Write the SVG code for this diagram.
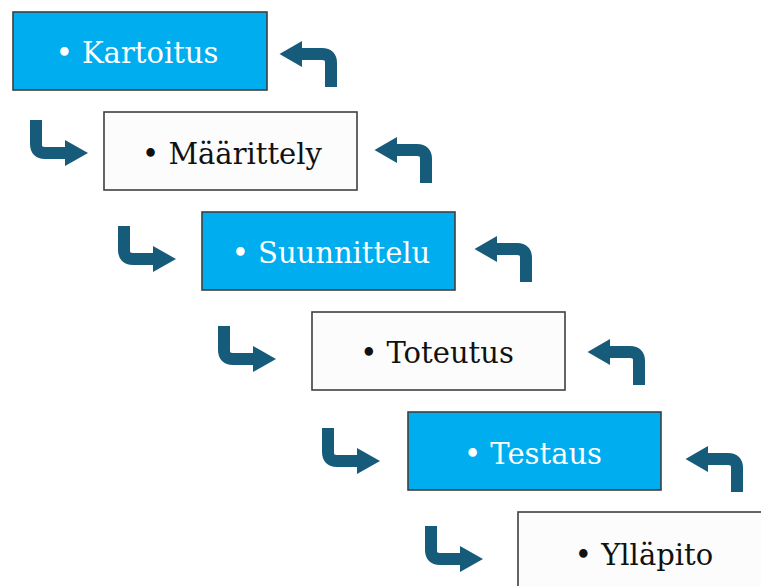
<svg xmlns="http://www.w3.org/2000/svg" xmlns:xlink="http://www.w3.org/1999/xlink" width="761" height="586" viewBox="0 0 761 586">
  <style>
    .box { stroke: #3f3f3f; stroke-width: 1.6; }
    .blue { fill: #00adee; }
    .plain { fill: #fcfcfc; }
    .label { font-family: "DejaVu Serif", "Liberation Serif", serif; font-size: 29px; text-anchor: middle; }
    .light { fill: #ffffff; }
    .dark { fill: #111111; }
    .shaft { fill: none; stroke: #175b7b; stroke-width: 12; }
    .head { fill: #175b7b; }
  </style>
  <defs>
    <!-- bent arrow pointing back up-left; origin at the foot of the vertical stem -->
    <g id="arrow-back">
      <path class="shaft" d="M0,0 V-24 Q0,-33 -9,-33 H-31"/>
      <polygon class="head" points="-29,-46 -51.5,-33 -29,-20"/>
    </g>
    <!-- bent arrow pointing down-right; origin at the top of the vertical stem -->
    <g id="arrow-next">
      <path class="shaft" d="M0,0 V24 Q0,33 9,33 H31"/>
      <polygon class="head" points="29,20 52,33 29,46"/>
    </g>
  </defs>

  <g id="connectors">
    <use xlink:href="#arrow-back" x="331" y="87"/>
    <use xlink:href="#arrow-back" x="426" y="183"/>
    <use xlink:href="#arrow-back" x="526" y="282"/>
    <use xlink:href="#arrow-back" x="639" y="385"/>
    <use xlink:href="#arrow-back" x="737" y="492"/>
    <use xlink:href="#arrow-next" x="36" y="120"/>
    <use xlink:href="#arrow-next" x="124" y="226"/>
    <use xlink:href="#arrow-next" x="224" y="326"/>
    <use xlink:href="#arrow-next" x="328" y="428"/>
    <use xlink:href="#arrow-next" x="431" y="526"/>
  </g>

  <g id="kartoitus">
    <rect class="box blue" x="13" y="12" width="254" height="78"/>
    <text class="label light" x="137" y="63">• Kartoitus</text>
  </g>
  <g id="maarittely">
    <rect class="box plain" x="104" y="112" width="253" height="78"/>
    <text class="label dark" x="232" y="164">• Määrittely</text>
  </g>
  <g id="suunnittelu">
    <rect class="box blue" x="202" y="212" width="253" height="78"/>
    <text class="label light" x="331" y="263">• Suunnittelu</text>
  </g>
  <g id="toteutus">
    <rect class="box plain" x="312" y="312" width="253" height="78"/>
    <text class="label dark" x="437" y="363">• Toteutus</text>
  </g>
  <g id="testaus">
    <rect class="box blue" x="408" y="412" width="253" height="78"/>
    <text class="label light" x="533" y="464">• Testaus</text>
  </g>
  <g id="yllapito">
    <rect class="box plain" x="518" y="512" width="254" height="78"/>
    <text class="label dark" x="644" y="565">• Ylläpito</text>
  </g>
</svg>
